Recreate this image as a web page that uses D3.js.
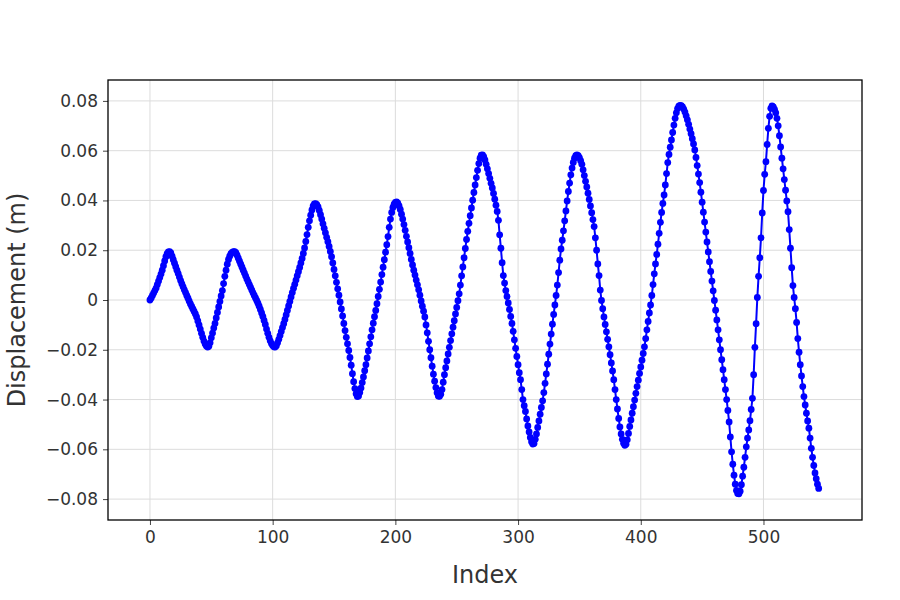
<!DOCTYPE html>
<html>
<head>
<meta charset="utf-8">
<script src="https://cdn.jsdelivr.net/npm/d3@7"></script>
<style>
  html, body { margin: 0; padding: 0; background: #fff; }
  svg { display: block; font-family: "DejaVu Sans", Verdana, sans-serif; }
</style>
</head>
<body>
<svg id="chart" width="900" height="600"></svg>
<script>
// ---- data (displacement in m, one value per index) ----
const displacement = [
  0.0000, 0.0008, 0.0018, 0.0028, 0.0038, 0.0048, 0.0062, 0.0076, 0.0090, 0.0104,
  0.0120, 0.0138, 0.0157, 0.0174, 0.0186, 0.0193, 0.0194, 0.0189, 0.0176, 0.0162,
  0.0148, 0.0134, 0.0120, 0.0106, 0.0092, 0.0078, 0.0065, 0.0053, 0.0041, 0.0030,
  0.0018, 0.0007, -0.0005, -0.0016, -0.0026, -0.0036, -0.0046, -0.0056, -0.0068, -0.0084,
  -0.0100, -0.0117, -0.0134, -0.0150, -0.0165, -0.0177, -0.0185, -0.0189, -0.0186, -0.0172,
  -0.0152, -0.0133, -0.0113, -0.0094, -0.0072, -0.0050, -0.0028, -0.0006, 0.0016, 0.0038,
  0.0066, 0.0095, 0.0120, 0.0144, 0.0163, 0.0176, 0.0186, 0.0191, 0.0194, 0.0194,
  0.0190, 0.0180, 0.0168, 0.0156, 0.0144, 0.0132, 0.0120, 0.0108, 0.0096, 0.0084,
  0.0073, 0.0062, 0.0051, 0.0040, 0.0029, 0.0018, 0.0008, -0.0002, -0.0013, -0.0025,
  -0.0038, -0.0052, -0.0066, -0.0082, -0.0098, -0.0117, -0.0134, -0.0150, -0.0164, -0.0175,
  -0.0183, -0.0188, -0.0189, -0.0184, -0.0172, -0.0158, -0.0143, -0.0127, -0.0111, -0.0095,
  -0.0078, -0.0060, -0.0042, -0.0024, -0.0006, 0.0012, 0.0030, 0.0047, 0.0063, 0.0080,
  0.0097, 0.0114, 0.0131, 0.0149, 0.0167, 0.0187, 0.0209, 0.0235, 0.0263, 0.0292,
  0.0318, 0.0341, 0.0362, 0.0378, 0.0386, 0.0387, 0.0383, 0.0374, 0.0360, 0.0343,
  0.0325, 0.0306, 0.0288, 0.0270, 0.0252, 0.0234, 0.0215, 0.0195, 0.0174, 0.0149,
  0.0123, 0.0097, 0.0071, 0.0045, 0.0019, -0.0008, -0.0036, -0.0064, -0.0094, -0.0123,
  -0.0150, -0.0176, -0.0203, -0.0231, -0.0262, -0.0296, -0.0328, -0.0356, -0.0377, -0.0388,
  -0.0386, -0.0372, -0.0354, -0.0332, -0.0309, -0.0284, -0.0260, -0.0233, -0.0205, -0.0176,
  -0.0148, -0.0120, -0.0093, -0.0067, -0.0042, -0.0015, 0.0014, 0.0043, 0.0072, 0.0102,
  0.0132, 0.0162, 0.0192, 0.0222, 0.0255, 0.0292, 0.0325, 0.0352, 0.0372, 0.0385,
  0.0392, 0.0394, 0.0389, 0.0378, 0.0364, 0.0345, 0.0325, 0.0303, 0.0280, 0.0256,
  0.0233, 0.0210, 0.0187, 0.0163, 0.0141, 0.0120, 0.0100, 0.0080, 0.0061, 0.0041,
  0.0019, -0.0004, -0.0025, -0.0045, -0.0068, -0.0100, -0.0132, -0.0166, -0.0200, -0.0232,
  -0.0266, -0.0298, -0.0326, -0.0352, -0.0373, -0.0386, -0.0387, -0.0379, -0.0360, -0.0330,
  -0.0300, -0.0272, -0.0245, -0.0217, -0.0190, -0.0163, -0.0136, -0.0109, -0.0083, -0.0056,
  -0.0030, -0.0003, 0.0025, 0.0060, 0.0097, 0.0133, 0.0170, 0.0207, 0.0243, 0.0276,
  0.0308, 0.0339, 0.0370, 0.0401, 0.0432, 0.0462, 0.0492, 0.0521, 0.0548, 0.0570,
  0.0582, 0.0583, 0.0576, 0.0563, 0.0545, 0.0527, 0.0508, 0.0489, 0.0469, 0.0450,
  0.0428, 0.0405, 0.0381, 0.0356, 0.0320, 0.0262, 0.0208, 0.0150, 0.0098, 0.0068,
  0.0038, 0.0014, -0.0012, -0.0038, -0.0066, -0.0094, -0.0126, -0.0160, -0.0194, -0.0227,
  -0.0260, -0.0292, -0.0320, -0.0360, -0.0400, -0.0425, -0.0448, -0.0478, -0.0506, -0.0530,
  -0.0552, -0.0570, -0.0579, -0.0577, -0.0560, -0.0538, -0.0512, -0.0486, -0.0459, -0.0432,
  -0.0405, -0.0372, -0.0335, -0.0297, -0.0258, -0.0218, -0.0177, -0.0137, -0.0097, -0.0058,
  -0.0020, 0.0018, 0.0060, 0.0110, 0.0160, 0.0205, 0.0240, 0.0278, 0.0318, 0.0358,
  0.0398, 0.0436, 0.0470, 0.0503, 0.0530, 0.0553, 0.0570, 0.0580, 0.0583, 0.0580,
  0.0572, 0.0560, 0.0545, 0.0523, 0.0500, 0.0477, 0.0454, 0.0429, 0.0404, 0.0378,
  0.0351, 0.0323, 0.0295, 0.0250, 0.0200, 0.0145, 0.0098, 0.0040, -0.0002, -0.0035,
  -0.0068, -0.0098, -0.0128, -0.0158, -0.0188, -0.0220, -0.0253, -0.0285, -0.0320, -0.0360,
  -0.0400, -0.0438, -0.0476, -0.0510, -0.0538, -0.0560, -0.0576, -0.0584, -0.0580, -0.0562,
  -0.0536, -0.0508, -0.0482, -0.0455, -0.0429, -0.0402, -0.0375, -0.0348, -0.0322, -0.0295,
  -0.0269, -0.0242, -0.0215, -0.0188, -0.0155, -0.0120, -0.0086, -0.0052, -0.0020, 0.0018,
  0.0062, 0.0105, 0.0145, 0.0183, 0.0224, 0.0268, 0.0312, 0.0352, 0.0388, 0.0422,
  0.0462, 0.0508, 0.0552, 0.0585, 0.0614, 0.0643, 0.0673, 0.0703, 0.0730, 0.0752,
  0.0769, 0.0779, 0.0782, 0.0781, 0.0776, 0.0767, 0.0755, 0.0740, 0.0724, 0.0706,
  0.0687, 0.0668, 0.0648, 0.0627, 0.0603, 0.0573, 0.0540, 0.0506, 0.0472, 0.0433,
  0.0393, 0.0353, 0.0313, 0.0273, 0.0233, 0.0193, 0.0154, 0.0115, 0.0076, 0.0037,
  -0.0002, -0.0041, -0.0080, -0.0120, -0.0160, -0.0200, -0.0240, -0.0280, -0.0320, -0.0360,
  -0.0400, -0.0444, -0.0490, -0.0550, -0.0610, -0.0660, -0.0704, -0.0740, -0.0765, -0.0778,
  -0.0779, -0.0768, -0.0742, -0.0708, -0.0672, -0.0632, -0.0590, -0.0555, -0.0522, -0.0485,
  -0.0440, -0.0395, -0.0300, -0.0190, -0.0095, 0.0010, 0.0095, 0.0170, 0.0250, 0.0350,
  0.0440, 0.0505, 0.0556, 0.0625, 0.0690, 0.0738, 0.0770, 0.0780, 0.0776, 0.0766,
  0.0752, 0.0730, 0.0700, 0.0660, 0.0615, 0.0570, 0.0527, 0.0484, 0.0441, 0.0398,
  0.0355, 0.0283, 0.0208, 0.0130, 0.0058, 0.0010, -0.0035, -0.0090, -0.0155, -0.0210,
  -0.0260, -0.0305, -0.0348, -0.0388, -0.0422, -0.0455, -0.0486, -0.0515, -0.0555, -0.0596,
  -0.0632, -0.0665, -0.0695, -0.0718, -0.0740, -0.0757
];
const xTickValues = [0, 100, 200, 300, 400, 500];
const xTickLabels = ["0", "100", "200", "300", "400", "500"];
const yTickValues = [-0.08, -0.06, -0.04, -0.02, 0, 0.02, 0.04, 0.06, 0.08];
const yTickLabels = ["\u22120.08", "\u22120.06", "\u22120.04", "\u22120.02", "0", "0.02", "0.04", "0.06", "0.08"];
const xTitle = "Index";
const yTitle = "Displacement (m)";

// ---- layout ----
const W = 900, H = 600;
const plot = { left: 108, right: 862, top: 80, bottom: 520 };
const svg = d3.select("#chart");
svg.append("rect").attr("width", W).attr("height", H).attr("fill", "#fff");

const points = displacement.map((v, i) => ({ x: i, y: v }));

const x = d3.scaleLinear().domain([-34.2, 580.3]).range([plot.left, plot.right]);
const y = d3.scaleLinear().domain([-0.0884, 0.0884]).range([plot.bottom, plot.top]);

// gridlines
const grid = svg.append("g");
grid.selectAll("line.vx").data(xTickValues).join("line")
  .attr("x1", d => x(d)).attr("x2", d => x(d))
  .attr("y1", plot.top).attr("y2", plot.bottom)
  .attr("stroke", "#dcdcdc").attr("stroke-width", 1);
grid.selectAll("line.hy").data(yTickValues).join("line")
  .attr("x1", plot.left).attr("x2", plot.right)
  .attr("y1", d => y(d)).attr("y2", d => y(d))
  .attr("stroke", "#dcdcdc").attr("stroke-width", 1);

// clip
svg.append("defs").append("clipPath").attr("id", "clip")
  .append("rect").attr("x", plot.left).attr("y", plot.top)
  .attr("width", plot.right - plot.left).attr("height", plot.bottom - plot.top);

const g = svg.append("g").attr("clip-path", "url(#clip)");
const line = d3.line().x(d => x(d.x)).y(d => y(d.y));
g.append("path").datum(points)
  .attr("d", line).attr("fill", "none")
  .attr("stroke", "#0000ff").attr("stroke-width", 2).attr("stroke-linejoin", "round");
g.selectAll("circle").data(points).join("circle")
  .attr("cx", d => x(d.x)).attr("cy", d => y(d.y)).attr("r", 3.4)
  .attr("fill", "#0000ff");

// axes
const xAxis = d3.axisBottom(x).tickValues(xTickValues)
  .tickFormat((d, i) => xTickLabels[i]).tickSize(5).tickSizeOuter(0).tickPadding(6);
const yAxis = d3.axisLeft(y).tickValues(yTickValues)
  .tickFormat((d, i) => yTickLabels[i]).tickSize(5).tickSizeOuter(0).tickPadding(5);

const gx = svg.append("g").attr("transform", `translate(0,${plot.bottom})`).call(xAxis);
const gy = svg.append("g").attr("transform", `translate(${plot.left},0)`).call(yAxis);
[gx, gy].forEach(a => {
  a.select(".domain").remove();
  a.selectAll(".tick line").attr("stroke", "#444");
  a.selectAll(".tick text").attr("fill", "#333")
    .style("font-family", "'DejaVu Sans', Verdana, sans-serif").style("font-size", "17px");
});

// frame
svg.append("rect")
  .attr("x", plot.left).attr("y", plot.top)
  .attr("width", plot.right - plot.left).attr("height", plot.bottom - plot.top)
  .attr("fill", "none").attr("stroke", "#000").attr("stroke-width", 1.3);

// titles
svg.append("text").attr("x", (plot.left + plot.right) / 2).attr("y", 583)
  .attr("text-anchor", "middle").attr("fill", "#333")
  .style("font-size", "24px").text(xTitle);
svg.append("text")
  .attr("transform", `translate(25,${(plot.top + plot.bottom) / 2}) rotate(-90)`)
  .attr("text-anchor", "middle").attr("fill", "#333")
  .style("font-size", "24px").text(yTitle);
</script>
</body>
</html>
